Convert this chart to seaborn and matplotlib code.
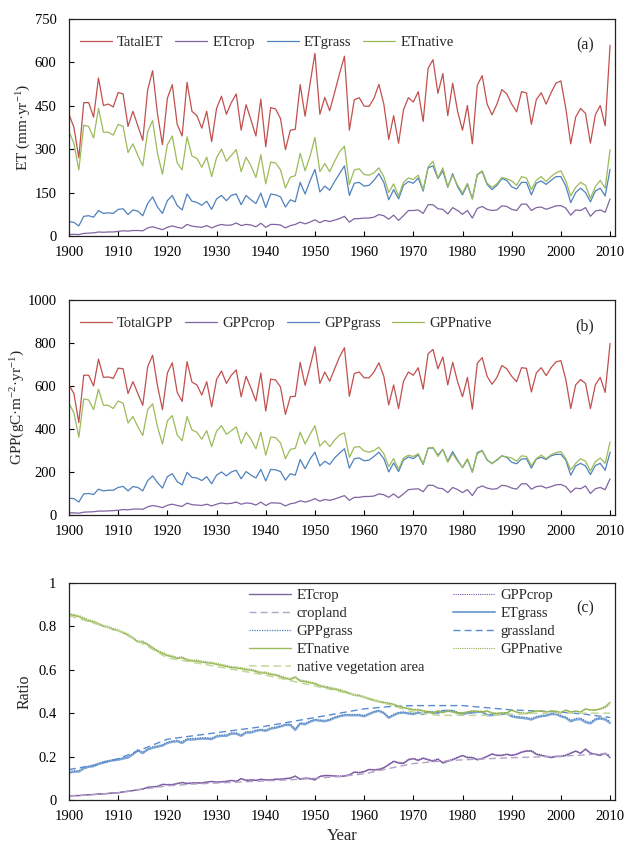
import matplotlib
matplotlib.use("Agg")
import matplotlib.pyplot as plt
import seaborn as sns

years = list(range(1900, 2011))

# ---- panel (a): ET (mm/yr)
total_et = [420, 375, 270, 460, 460, 410, 545, 450, 455, 445,
            495, 490, 378, 430, 380, 330, 505, 570, 420, 315,
            475, 522, 385, 345, 530, 430, 415, 372, 430, 325,
            440, 482, 420, 460, 490, 365, 453, 400, 345, 472,
            308, 443, 438, 405, 298, 365, 368, 522, 413, 525,
            630, 420, 478, 432, 495, 560, 620, 365, 470, 477,
            448, 447, 475, 523, 455, 333, 415, 320, 435, 477,
            462, 498, 395, 578, 608, 492, 560, 415, 527, 430,
            365, 450, 318, 520, 553, 455, 418, 455, 505, 490,
            455, 428, 498, 493, 385, 470, 494, 455, 494, 527,
            535, 440, 318, 410, 440, 423, 320, 418, 450, 380, 658]
et_crop = [5, 6, 5, 9, 10, 11, 14, 13, 14, 14,
           16, 18, 17, 19, 19, 18, 28, 32, 27, 22,
           30, 35, 30, 27, 40, 34, 32, 30, 36, 28,
           35, 40, 37, 38, 45, 36, 40, 38, 32, 44,
           30, 40, 40, 38, 28, 36, 40, 48, 42, 48,
           56, 46, 54, 50, 55, 60, 68, 48, 60, 60,
           62, 62, 65, 74, 70, 58, 72, 54, 70, 88,
           88, 90, 78, 108, 108, 94, 92, 76, 98, 88,
           75, 88, 62, 95, 102, 92, 88, 90, 104, 102,
           92, 88, 110, 110, 88, 98, 100, 92, 98, 104,
           105, 96, 72, 90, 88, 98, 68, 86, 90, 82, 128]
et_grass = [50, 47, 35, 68, 70, 65, 88, 78, 80, 78,
            92, 94, 74, 90, 86, 70, 112, 135, 100, 78,
            122, 140, 105, 90, 145, 120, 116, 106, 120, 92,
            128, 140, 122, 140, 145, 108, 140, 125, 112, 148,
            98, 145, 142, 135, 100, 125, 118, 185, 145, 190,
            230, 152, 172, 158, 188, 215, 242, 140, 182, 185,
            172, 175, 192, 215, 185, 125, 160, 128, 175, 188,
            182, 200, 155, 235, 242, 198, 225, 168, 215, 170,
            142, 178, 128, 212, 222, 178, 160, 175, 198, 192,
            170, 162, 185, 185, 142, 182, 190, 178, 192, 205,
            205, 172, 115, 150, 165, 150, 118, 155, 165, 138, 230]
et_native = [360, 320, 228, 382, 378, 338, 440, 358, 358, 348,
             385, 378, 288, 318, 278, 242, 360, 398, 285, 213,
             315, 345, 252, 228, 342, 276, 268, 237, 272, 205,
             270, 300, 258, 278, 298, 222, 272, 242, 202, 280,
             180, 255, 252, 228, 166, 203, 208, 285, 225, 275,
             340, 222, 250, 222, 258, 290, 310, 178, 228, 232,
             212, 210, 218, 235, 205, 150, 180, 138, 185, 200,
             195, 210, 160, 238, 258, 200, 235, 170, 210, 175,
             148, 182, 128, 212, 225, 182, 168, 180, 202, 198,
             190, 175, 205, 200, 160, 192, 205, 188, 205, 218,
             225, 190, 138, 168, 185, 175, 130, 170, 192, 165, 298]

# ---- panel (b): GPP (gC/m2/yr)
total_gpp = [605, 565, 430, 650, 650, 600, 725, 640, 642, 635,
             683, 680, 565, 620, 565, 510, 690, 743, 600, 490,
             660, 708, 570, 528, 713, 618, 605, 558, 620, 503,
             630, 670, 612, 650, 675, 550, 645, 590, 530, 660,
             483, 632, 628, 595, 468, 550, 552, 710, 603, 690,
             783, 612, 665, 622, 680, 735, 778, 552, 658, 665,
             638, 638, 665, 708, 645, 512, 605, 495, 622, 665,
             650, 685, 585, 750, 770, 680, 735, 605, 710, 620,
             550, 640, 492, 705, 732, 645, 608, 640, 695, 680,
             645, 620, 685, 682, 572, 660, 685, 648, 685, 712,
             718, 630, 495, 605, 630, 612, 495, 605, 640, 570, 798]
gpp_crop = [10, 10, 8, 13, 14, 15, 18, 18, 19, 20,
            22, 25, 24, 27, 28, 26, 38, 44, 40, 34,
            45, 50, 44, 40, 55, 48, 46, 44, 50, 42,
            50, 56, 52, 54, 60, 50, 56, 54, 46, 60,
            44, 56, 56, 54, 42, 52, 56, 66, 60, 66,
            76, 64, 72, 68, 74, 82, 90, 68, 82, 82,
            86, 86, 88, 98, 94, 82, 98, 80, 98, 118,
            120, 122, 108, 138, 138, 125, 122, 104, 128, 118,
            104, 118, 90, 125, 135, 125, 120, 122, 138, 135,
            125, 120, 145, 145, 120, 132, 135, 125, 132, 140,
            142, 132, 105, 125, 122, 135, 100, 122, 128, 118, 168]
gpp_grass = [78, 76, 60, 98, 100, 95, 120, 112, 115, 115,
             128, 133, 112, 132, 128, 112, 160, 182, 150, 125,
             178, 192, 155, 140, 198, 175, 172, 160, 178, 145,
             185, 200, 182, 200, 208, 168, 202, 185, 172, 212,
             158, 212, 210, 202, 162, 192, 185, 258, 215, 260,
             292, 228, 250, 235, 265, 288, 308, 218, 262, 265,
             252, 255, 272, 292, 262, 200, 242, 202, 255, 270,
             262, 280, 235, 310, 312, 278, 305, 250, 295, 255,
             220, 258, 200, 290, 300, 255, 240, 255, 275, 268,
             245, 238, 260, 262, 218, 260, 268, 258, 275, 282,
             282, 255, 185, 228, 240, 228, 188, 230, 240, 208, 292]
gpp_native = [520, 475, 362, 540, 535, 490, 585, 510, 510, 495,
              530, 520, 428, 458, 410, 370, 490, 517, 410, 330,
              438, 462, 372, 345, 458, 395, 385, 352, 392, 318,
              390, 415, 375, 392, 410, 332, 385, 352, 308, 385,
              278, 362, 360, 335, 262, 305, 310, 385, 330, 375,
              415, 320, 345, 318, 348, 372, 382, 268, 315, 318,
              298, 292, 300, 315, 285, 225, 262, 212, 265, 278,
              272, 285, 238, 310, 315, 272, 305, 245, 285, 250,
              222, 262, 198, 285, 298, 258, 238, 258, 275, 270,
              265, 250, 275, 272, 230, 262, 278, 262, 280, 290,
              295, 262, 210, 240, 262, 250, 205, 248, 265, 240, 340]

# ---- panel (c): ratios
r_et_crop = [0.018, 0.02, 0.02, 0.022, 0.024, 0.025, 0.027, 0.028, 0.03, 0.032,
             0.033, 0.037, 0.04, 0.043, 0.047, 0.05, 0.058, 0.06, 0.062, 0.072,
             0.07, 0.07, 0.075, 0.08, 0.075, 0.078, 0.078, 0.078, 0.082, 0.085,
             0.082, 0.083, 0.085, 0.09, 0.085, 0.098, 0.09, 0.092, 0.09, 0.095,
             0.092, 0.092, 0.095, 0.095, 0.098, 0.1, 0.11, 0.095, 0.1, 0.098,
             0.092, 0.108, 0.112, 0.112, 0.11, 0.108, 0.11, 0.115, 0.128, 0.125,
             0.13, 0.14, 0.138, 0.14, 0.148, 0.162, 0.178, 0.17, 0.168, 0.185,
             0.19, 0.182, 0.192, 0.185, 0.178, 0.188, 0.17, 0.178, 0.185, 0.195,
             0.205, 0.195, 0.195, 0.185, 0.19, 0.2, 0.212, 0.205, 0.205, 0.21,
             0.205, 0.21, 0.22, 0.225, 0.225, 0.21, 0.205, 0.2, 0.195, 0.2,
             0.2, 0.205, 0.215, 0.225, 0.215, 0.235, 0.215, 0.21, 0.205, 0.215, 0.195]
r_gpp_crop = [0.02, 0.021, 0.021, 0.023, 0.025, 0.026, 0.028, 0.029, 0.031, 0.033,
              0.034, 0.038, 0.041, 0.044, 0.048, 0.051, 0.059, 0.062, 0.064, 0.072,
              0.072, 0.072, 0.077, 0.082, 0.078, 0.08, 0.08, 0.08, 0.084, 0.086,
              0.084, 0.085, 0.087, 0.091, 0.088, 0.098, 0.092, 0.094, 0.092, 0.096,
              0.094, 0.094, 0.097, 0.097, 0.1, 0.102, 0.11, 0.098, 0.102, 0.1,
              0.096, 0.11, 0.114, 0.114, 0.112, 0.11, 0.112, 0.118, 0.13, 0.128,
              0.133, 0.142, 0.14, 0.143, 0.15, 0.165, 0.18, 0.174, 0.172, 0.188,
              0.192, 0.186, 0.195, 0.188, 0.182, 0.19, 0.174, 0.182, 0.188, 0.198,
              0.206, 0.198, 0.198, 0.188, 0.193, 0.203, 0.212, 0.207, 0.208, 0.212,
              0.208, 0.212, 0.222, 0.228, 0.228, 0.214, 0.208, 0.203, 0.198, 0.202,
              0.203, 0.207, 0.218, 0.226, 0.218, 0.232, 0.218, 0.213, 0.208, 0.216, 0.205]
r_et_grass = [0.125, 0.13, 0.13, 0.145, 0.152, 0.155, 0.165, 0.172, 0.178, 0.182,
              0.185, 0.19, 0.195, 0.21, 0.228, 0.215, 0.232, 0.24, 0.245, 0.25,
              0.262, 0.268, 0.27, 0.262, 0.278, 0.278, 0.28, 0.282, 0.282, 0.28,
              0.292, 0.295, 0.295, 0.305, 0.305, 0.295, 0.31, 0.31, 0.318, 0.322,
              0.318, 0.328, 0.332, 0.338, 0.345, 0.345, 0.322, 0.352, 0.348, 0.36,
              0.368, 0.365, 0.362, 0.368, 0.378, 0.385, 0.39, 0.39, 0.39, 0.39,
              0.385, 0.395, 0.405, 0.41, 0.4, 0.378, 0.39, 0.4, 0.402, 0.398,
              0.395, 0.402, 0.395, 0.405, 0.402, 0.4, 0.41, 0.41, 0.41, 0.4,
              0.395, 0.4, 0.402, 0.405, 0.405, 0.39, 0.39, 0.395, 0.395, 0.398,
              0.385, 0.38, 0.378, 0.375, 0.37, 0.38, 0.385, 0.388, 0.395, 0.395,
              0.385, 0.378, 0.362, 0.37, 0.372, 0.358, 0.352, 0.37, 0.375, 0.37, 0.355]
r_gpp_grass = [0.13, 0.135, 0.135, 0.15, 0.157, 0.16, 0.17, 0.177, 0.182, 0.186,
               0.19, 0.194, 0.2, 0.214, 0.232, 0.22, 0.236, 0.245, 0.25, 0.255,
               0.267, 0.272, 0.275, 0.268, 0.283, 0.283, 0.285, 0.287, 0.287, 0.285,
               0.297, 0.3, 0.3, 0.31, 0.31, 0.3, 0.315, 0.315, 0.322, 0.326,
               0.323, 0.333, 0.336, 0.342, 0.35, 0.35, 0.328, 0.356, 0.353, 0.364,
               0.372, 0.369, 0.367, 0.372, 0.382, 0.389, 0.394, 0.394, 0.394, 0.394,
               0.39, 0.399, 0.408, 0.413, 0.404, 0.383, 0.395, 0.404, 0.406, 0.402,
               0.4, 0.406, 0.4, 0.409, 0.406, 0.404, 0.414, 0.414, 0.413, 0.404,
               0.399, 0.404, 0.405, 0.409, 0.409, 0.395, 0.394, 0.399, 0.399, 0.402,
               0.39, 0.385, 0.383, 0.38, 0.376, 0.385, 0.39, 0.392, 0.399, 0.399,
               0.39, 0.383, 0.368, 0.376, 0.378, 0.364, 0.358, 0.375, 0.38, 0.376, 0.362]
r_et_native = [0.855, 0.85, 0.845, 0.835, 0.825, 0.82, 0.81, 0.8, 0.795, 0.785,
               0.78, 0.77, 0.76, 0.745, 0.728, 0.728, 0.715, 0.7, 0.685, 0.675,
               0.665, 0.66, 0.652, 0.655, 0.645, 0.64, 0.64, 0.635, 0.632, 0.63,
               0.625, 0.62, 0.615, 0.61, 0.608, 0.605, 0.6, 0.598, 0.592, 0.585,
               0.585, 0.578, 0.575, 0.568, 0.56, 0.555, 0.565, 0.548, 0.545, 0.54,
               0.535, 0.525, 0.52, 0.515, 0.51, 0.505, 0.498, 0.49, 0.482, 0.48,
               0.472, 0.465, 0.458, 0.452, 0.448, 0.445, 0.44, 0.43, 0.425, 0.42,
               0.415, 0.415, 0.41, 0.405, 0.4, 0.41, 0.402, 0.41, 0.405, 0.4,
               0.4, 0.405, 0.41, 0.408, 0.405, 0.41, 0.4, 0.398, 0.4, 0.4,
               0.415, 0.405, 0.4, 0.398, 0.405, 0.41, 0.41, 0.405, 0.41, 0.408,
               0.402, 0.415, 0.405, 0.41, 0.405, 0.42, 0.415, 0.415, 0.42, 0.43, 0.45]
r_gpp_native = [0.86, 0.855, 0.85, 0.84, 0.83, 0.825, 0.815, 0.805, 0.8, 0.79,
                0.785, 0.775, 0.765, 0.75, 0.733, 0.733, 0.72, 0.705, 0.69, 0.68,
                0.67, 0.665, 0.657, 0.66, 0.65, 0.645, 0.645, 0.64, 0.637, 0.635,
                0.63, 0.625, 0.62, 0.615, 0.613, 0.61, 0.605, 0.603, 0.597, 0.59,
                0.59, 0.583, 0.58, 0.573, 0.565, 0.56, 0.57, 0.553, 0.55, 0.545,
                0.54, 0.53, 0.525, 0.52, 0.515, 0.51, 0.503, 0.495, 0.487, 0.485,
                0.477, 0.47, 0.463, 0.457, 0.452, 0.448, 0.443, 0.433, 0.428, 0.423,
                0.418, 0.418, 0.413, 0.408, 0.403, 0.412, 0.405, 0.412, 0.408, 0.403,
                0.403, 0.407, 0.412, 0.41, 0.407, 0.412, 0.403, 0.4, 0.403, 0.403,
                0.412, 0.405, 0.402, 0.4, 0.405, 0.41, 0.41, 0.406, 0.41, 0.41,
                0.405, 0.413, 0.405, 0.41, 0.405, 0.418, 0.413, 0.413, 0.418, 0.425, 0.44]

# land area fractions, read every 5 years
area_years = list(range(1900, 2011, 5))
cropland = [0.018, 0.025, 0.033, 0.05, 0.065, 0.073, 0.078, 0.083, 0.088, 0.093,
            0.1, 0.108, 0.12, 0.145, 0.168, 0.178, 0.185, 0.19, 0.195, 0.198,
            0.202, 0.208, 0.215]
grassland = [0.14, 0.16, 0.19, 0.235, 0.28, 0.295, 0.31, 0.325, 0.34, 0.36,
             0.38, 0.4, 0.42, 0.43, 0.435, 0.435, 0.435, 0.425, 0.415, 0.41,
             0.405, 0.395, 0.38]
native_area = [0.85, 0.815, 0.78, 0.72, 0.655, 0.635, 0.615, 0.595, 0.575, 0.55,
               0.525, 0.5, 0.475, 0.44, 0.405, 0.39, 0.39, 0.39, 0.395, 0.4,
               0.4, 0.4, 0.4]

RED, PURPLE, BLUE, GREEN = "#C0504D", "#8064A2", "#4F81BD", "#9BBB59"

sns.set_style("ticks")
plt.rcParams["font.family"] = ["Liberation Serif", "DejaVu Serif"]
plt.rcParams["mathtext.fontset"] = "custom"
plt.rcParams["mathtext.rm"] = "Liberation Serif"
plt.rcParams["mathtext.it"] = "Liberation Serif:italic"
plt.rcParams["font.size"] = 10.5

fig = plt.figure(figsize=(6.3, 8.46), dpi=100)
ax_a = fig.add_axes([0.1095, 0.7210, 0.8667, 0.2571])
ax_b = fig.add_axes([0.1095, 0.3913, 0.8667, 0.2541])
ax_c = fig.add_axes([0.1095, 0.0544, 0.8667, 0.2565])


def style_axis(ax, ymax, ystep):
    ax.set_xlim(1900, 2011)
    ax.set_ylim(0, ymax)
    ax.set_xticks(range(1900, 2011, 10))
    ax.set_yticks([i * ystep for i in range(int(round(ymax / ystep)) + 1)])
    ax.tick_params(direction="in", length=3.5, width=0.8, labelsize=10.5,
                   top=False, right=False, colors="black")
    ax.tick_params(axis="x", pad=7)
    ax.tick_params(axis="y", pad=9)
    for sp in ax.spines.values():
        sp.set_linewidth(0.9)
        sp.set_color("#222222")
    ax.set_xlabel("")


# panel (a)
for vals, col, lab in [(total_et, RED, "TatalET"), (et_crop, PURPLE, "ETcrop"),
                       (et_grass, BLUE, "ETgrass"), (et_native, GREEN, "ETnative")]:
    sns.lineplot(x=years, y=vals, ax=ax_a, color=col, linewidth=0.9, label=lab)
style_axis(ax_a, 750, 150)
ax_a.set_ylabel("ET (mm·yr$^{-1}$)", fontsize=11, labelpad=1)
ax_a.legend(loc="upper left", bbox_to_anchor=(0.02, 0.92), ncol=4, frameon=False,
            handlelength=2.2, handletextpad=0.35, columnspacing=0.8,
            borderpad=0, borderaxespad=0, fontsize=10.5)
ax_a.text(0.945, 0.878, "(a)", transform=ax_a.transAxes, ha="center", va="center", fontsize=11.5)

# panel (b)
for vals, col, lab in [(total_gpp, RED, "TotalGPP"), (gpp_crop, PURPLE, "GPPcrop"),
                       (gpp_grass, BLUE, "GPPgrass"), (gpp_native, GREEN, "GPPnative")]:
    sns.lineplot(x=years, y=vals, ax=ax_b, color=col, linewidth=0.9, label=lab)
style_axis(ax_b, 1000, 200)
ax_b.set_ylabel("GPP(gC·m$^{-2}$·yr$^{-1}$)", fontsize=11, labelpad=0)
ax_b.legend(loc="upper left", bbox_to_anchor=(0.02, 0.92), ncol=4, frameon=False,
            handlelength=2.2, handletextpad=0.35, columnspacing=0.8,
            borderpad=0, borderaxespad=0, fontsize=10.5)
ax_b.text(0.945, 0.878, "(b)", transform=ax_b.transAxes, ha="center", va="center", fontsize=11.5)

# panel (c)
dash = (0, (5, 3))
dot = (0, (1, 1))
series_c = [
    (years, r_et_crop, PURPLE, "-", 1.0, "ETcrop"),
    (years, r_gpp_crop, "#7A52A8", dot, 0.8, "GPPcrop"),
    (area_years, cropland, "#B3A2C7", dash, 1.0, "cropland"),
    (years, r_et_grass, "#7FA6D6", "-", 1.5, "ETgrass"),
    (years, r_gpp_grass, BLUE, dot, 0.9, "GPPgrass"),
    (area_years, grassland, "#5B8BD0", dash, 1.0, "grassland"),
    (years, r_et_native, GREEN, "-", 1.0, "ETnative"),
    (years, r_gpp_native, "#8DB04A", dot, 0.8, "GPPnative"),
    (area_years, native_area, "#C3D69B", dash, 1.1, "native vegetation area"),
]
for xs, ys, col, ls, lw, lab in series_c:
    sns.lineplot(x=xs, y=ys, ax=ax_c, color=col, linestyle=ls, linewidth=lw, label=lab)
style_axis(ax_c, 1.0, 0.2)
ax_c.yaxis.set_major_formatter(plt.FuncFormatter(lambda v, _: f"{v:g}"))
ax_c.set_ylabel("Ratio", fontsize=11.5, labelpad=4)
ax_c.set_xlabel("Year", fontsize=12, labelpad=4)
handles, labels = ax_c.get_legend_handles_labels()
order = [0, 2, 4, 6, 8, 1, 3, 5, 7]
ax_c.legend([handles[i] for i in order], [labels[i] for i in order],
            loc="upper left", bbox_to_anchor=(0.33, 0.972), ncol=2, frameon=False,
            handlelength=2.9, handletextpad=0.35, columnspacing=2.0, labelspacing=0.32,
            borderpad=0, borderaxespad=0, fontsize=10.5)
ax_c.text(0.945, 0.882, "(c)", transform=ax_c.transAxes, ha="center", va="center", fontsize=11.5)

fig.savefig("out.png", dpi=100)
